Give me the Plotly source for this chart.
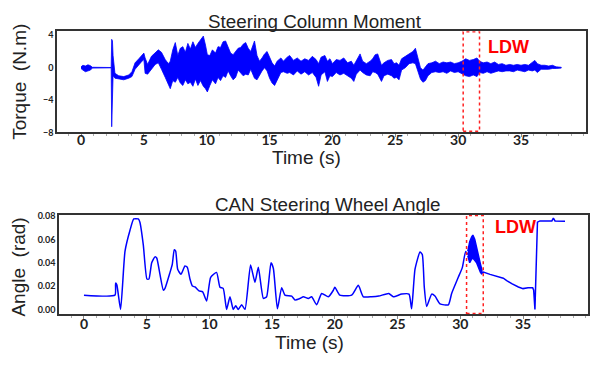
import plotly.graph_objects as go

# ---------------- Data: Steering column moment (envelope of noisy torque) ----------------
torque_t = [0.0, 0.15, 0.35, 0.55, 0.75, 0.9, 2.40, 2.44, 2.50, 2.55, 2.7, 3.0, 3.4, 3.8, 4.05, 4.3, 4.6,
            4.85, 5.0, 5.1, 5.3, 5.6, 5.9, 6.15, 6.4, 6.7, 6.95, 7.1, 7.3, 7.5, 7.7, 7.9, 8.1, 8.3, 8.5,
            8.7, 8.9, 9.1, 9.3, 9.5, 9.73, 9.9, 10.05, 10.25, 10.45, 10.7, 10.9, 11.1, 11.3, 11.5, 11.7,
            11.9, 12.1, 12.3, 12.5, 12.7, 12.9, 13.1, 13.3, 13.5, 13.8, 14.0, 14.2, 14.4, 14.6, 14.8,
            15.0, 15.2, 15.4, 15.6, 15.9, 16.1, 16.4, 16.6, 16.9, 17.2, 17.5, 17.8, 18.1, 18.4, 18.7,
            18.9, 19.1, 19.4, 19.6, 19.8, 20.0, 20.3, 20.6, 20.9, 21.2, 21.5, 21.7, 21.9, 22.2, 22.4,
            22.7, 23.0, 23.2, 23.4, 23.6, 23.9, 24.1, 24.4, 24.7, 24.9, 25.1, 25.3, 25.5, 25.8, 26.1,
            26.4, 26.6, 26.8, 27.0, 27.2, 27.4, 27.6, 27.9, 28.2, 28.5, 28.8, 29.1, 29.4, 29.7, 30.0,
            30.3, 30.6, 30.9, 31.2, 31.5, 31.7, 32.0, 32.3, 32.6, 32.9, 33.2, 33.5, 33.8, 34.1, 34.4,
            34.7, 35.0, 35.3, 35.6, 35.9, 36.1, 36.3, 36.6, 36.9, 37.2, 37.5, 37.8, 38.2]
torque_hi = [0.1, 0.3, 0.2, 0.35, 0.25, 0.05, 0.02, 3.5, 3.3, 1.5, -0.7, -1.0, -1.1, -0.9, -0.5, 0.6, 1.1,
             1.5, 1.8, 1.2, 0.4, 1.4, 1.8, 2.2, 1.9, 1.0, 0.5, 0.8, 2.2, 3.1, 1.5, 2.4, 2.6, 1.9, 3.0,
             2.3, 3.2, 2.5, 3.0, 3.4, 3.9, 2.8, 1.6, 1.5, 2.2, 1.8, 2.6, 2.5, 3.2, 3.3, 2.6,
             1.8, 1.6, 2.0, 2.4, 2.5, 2.9, 3.1, 2.4, 2.0, 3.3, 1.5, 0.8, 1.2, 1.7, 2.0,
             1.2, 0.6, 0.2, 0.8, 1.2, 0.8, 1.3, 1.5, 0.9, 1.2, 0.8, 1.1, 0.9, 1.4, 1.0,
             0.5, 1.3, 1.5, 0.8, 1.1, 0.5, 1.0, 0.9, 1.2, 0.6, 0.8, 0.3, 0.9, 1.7, 0.8,
             0.5, 0.8, 1.1, 1.6, 1.7, 0.3, 0.6, 0.9, 1.0, 0.5, 0.6, 0.3, 1.1, 1.4, 1.7,
             2.0, 2.4, 1.3, 0.0, -0.3, 0.1, 0.5, 0.6, 0.8, 0.5, 0.7, 0.6, 0.7, 0.5, 0.6,
             0.8, 1.1, 0.9, 1.0, 1.2, 0.8, 0.6, 0.7, 0.5, 0.7, 0.4, 0.5, 0.3, 0.4, 0.3,
             0.4, 0.3, 0.4, 0.3, 0.6, 0.9, 0.5, 0.3, 0.3, 0.2, 0.3, 0.1, 0.05]
torque_lo = [-0.1, -0.3, -0.5, -0.4, -0.3, -0.05, -0.02, -7.3, -7.2, -1.0, -1.3, -1.4, -1.5, -1.3, -1.1, -0.2, 0.4,
             0.8, 1.0, -0.7, -0.8, -0.2, 0.4, 0.6, -0.2, -1.2, -2.0, -2.6, -1.6, -1.8, -1.2, -1.9, -2.2, -1.5, -2.0,
             -1.8, -2.3, -1.4, -2.2, -1.6, -2.3, -2.6, -3.0, -2.2, -1.5, -2.0, -1.2, -1.6, -1.0, -1.2, -0.4,
             -1.0, -1.5, -1.2, -0.3, -0.6, -1.0, -0.8, -0.9, -0.2, -1.3, -1.5, -1.0, -0.4, 0.0, -0.4,
             -1.3, -1.9, -2.2, -1.6, -0.6, -0.5, -0.7, -0.6, -0.9, -0.4, -0.8, -0.5, -0.9, -0.6, -1.2,
             -2.3, -0.9, -0.5, -1.7, -1.0, -1.1, -0.6, -0.9, -0.7, -1.0, -1.3, -1.7, -0.8, -0.3, -0.6,
             -0.9, -1.0, -0.5, -0.6, -0.8, -1.7, -1.0, -0.8, -1.0, -1.3, -1.2, -1.5, -0.3, 0.0, 0.5,
             0.6, 0.5, -0.4, -1.4, -1.8, -1.6, -1.0, -0.6, -0.5, -0.6, -0.5, -0.7, -0.4, -0.6, -0.5,
             -0.7, -1.0, -1.1, -0.9, -1.1, -0.6, -0.7, -0.5, -0.7, -0.6, -0.4, -0.5, -0.4, -0.4, -0.5,
             -0.3, -0.4, -0.5, -0.3, -0.4, -0.3, -0.6, -0.2, -0.2, -0.2, -0.1, -0.1, -0.05]

# ---------------- Data: CAN steering wheel angle ----------------
angle_t = [0.0, 2.47, 2.52, 2.62, 2.92, 3.27, 3.67, 3.97, 4.33, 4.46, 4.73, 5.02, 5.18, 5.4, 5.66, 5.8,
           6.06, 6.33, 6.46, 6.86, 7.04, 7.2, 7.31, 7.47, 7.73, 8.05, 8.24, 8.45, 8.64, 8.85, 9.17, 9.46,
           9.78, 10.1, 10.57, 10.84, 11.1, 11.37, 11.64, 11.9, 12.1, 12.3, 12.57, 12.84, 13.28, 13.63,
           13.9, 14.3, 14.56, 14.91, 15.1, 15.42, 15.76, 16.02, 16.56, 16.82, 17.22, 17.49, 17.89,
           18.15, 18.55, 18.95, 19.48, 19.88, 20.0, 20.4, 21.34, 21.87, 22.27, 22.93, 23.5, 24.3,
           24.66, 25.33, 25.91, 26.12, 26.39, 26.79, 26.97, 27.13, 27.32, 27.72, 27.98, 28.38, 29.05,
           29.31, 29.84, 30.16, 30.43, 30.6]
angle_v = [0.0122, 0.0122, 0.0225, 0.021, 0.0, 0.0497, 0.0678, 0.0775, 0.0775, 0.0747, 0.0553, 0.026,
           0.026, 0.040, 0.045, 0.044, 0.030, 0.0164, 0.018, 0.0317, 0.0386, 0.0511, 0.050, 0.0344,
           0.030, 0.0372, 0.036, 0.026, 0.020, 0.0192, 0.0158, 0.015, 0.0072, 0.0275, 0.0317, 0.019,
           0.018, 0.0, 0.0108, 0.0, 0.0031, 0.0, 0.0039, 0.0, 0.0381, 0.0233, 0.036, 0.0094, 0.0108,
           0.0400, 0.035, 0.0005, 0.0186, 0.0122, 0.0114, 0.0081, 0.0094, 0.0108, 0.0094, 0.0108,
           0.0039, 0.0136, 0.0108, 0.0164, 0.019, 0.0122, 0.0122, 0.0206, 0.0108, 0.0108, 0.0114,
           0.0136, 0.0108, 0.0131, 0.0131, 0.0005, 0.0344, 0.0492, 0.047, 0.019, 0.0025, 0.0131,
           0.0114, 0.0047, 0.0039, 0.0136, 0.0275, 0.0358, 0.0497, 0.047]
# oscillating portion during LDW (envelope)
band_t = [30.6, 30.75, 30.9, 31.0, 31.15, 31.3, 31.45, 31.6, 31.72]
band_hi = [0.050, 0.058, 0.062, 0.0636, 0.060, 0.052, 0.045, 0.039, 0.034]
band_lo = [0.046, 0.040, 0.043, 0.044, 0.042, 0.040, 0.036, 0.032, 0.030]
angle2_t = [31.72, 31.84, 32.37, 33.43, 33.7, 34.1, 34.63, 35.0, 35.4, 35.77, 35.85, 35.95, 36.15, 36.35,
            37.3, 37.42, 37.55, 38.35]
angle2_v = [0.031, 0.032, 0.030, 0.0267, 0.0247, 0.022, 0.0192, 0.0178, 0.0186, 0.0186, 0.0165, 0.0,
            0.0747, 0.0758, 0.0758, 0.0782, 0.0758, 0.0756]

# LDW windows (s)
ldw_top = [30.4, 31.7]
ldw_bot = [30.5, 31.83]

torque_ticks = [-8, -4, 0, 4]
angle_ticks = [0.0, 0.02, 0.04, 0.06, 0.08]
time_ticks = [0, 5, 10, 15, 20, 25, 30, 35]

BLUE = "#0000FF"
fig = go.Figure()

fig.add_trace(go.Scatter(
    x=torque_t + torque_t[::-1], y=torque_hi + torque_lo[::-1],
    fill="toself", fillcolor=BLUE, mode="lines", line=dict(color=BLUE, width=0.8),
    xaxis="x", yaxis="y", showlegend=False, hoverinfo="skip"))

fig.add_trace(go.Scatter(x=angle_t, y=angle_v, mode="lines",
                         line=dict(color=BLUE, width=1.5, shape="spline", smoothing=0.5),
                         xaxis="x2", yaxis="y2", showlegend=False))
fig.add_trace(go.Scatter(
    x=band_t + band_t[::-1], y=band_hi + band_lo[::-1],
    fill="toself", fillcolor=BLUE, mode="lines", line=dict(color=BLUE, width=1.5),
    xaxis="x2", yaxis="y2", showlegend=False))
fig.add_trace(go.Scatter(x=angle2_t, y=angle2_v, mode="lines", line=dict(color=BLUE, width=1.5),
                         xaxis="x2", yaxis="y2", showlegend=False))

tickfont_x = dict(family="Lato", size=14, weight="bold", color="#222")
tickfont_y = dict(family="Lato", size=9, weight="bold", color="#222")
axline = dict(showline=True, linecolor="#333", linewidth=1.5, mirror=True, showgrid=False, zeroline=False)

fig.update_layout(
    width=591, height=365, margin=dict(l=0, r=0, t=0, b=0),
    paper_bgcolor="white", plot_bgcolor="white",
    xaxis=dict(domain=[57/591, 586/591], range=[-1.91, 40.17], anchor="y", tickvals=time_ticks,
               ticks="outside", ticklen=3, tickcolor="#888", tickfont=tickfont_x, ticklabelstandoff=-9,
               minor=dict(dtick=1, ticks="outside", ticklen=2, tickcolor="#aaa"), **axline),
    yaxis=dict(domain=[1-131/365, 1-27/365], range=[-8, 4.5], anchor="x", tickvals=torque_ticks,
               ticks="", tickfont=tickfont_y, **axline),
    xaxis2=dict(domain=[59/591, 588/591], range=[-1.99, 40.18], anchor="y2", tickvals=time_ticks,
                ticks="outside", ticklen=3, tickcolor="#888", tickfont=tickfont_x, ticklabelstandoff=-7,
                minor=dict(dtick=1, ticks="outside", ticklen=2, tickcolor="#aaa"), **axline),
    yaxis2=dict(domain=[1-318/365, 1-216/365], range=[-0.0042, 0.0808], anchor="x2",
                tickvals=angle_ticks, tickformat=".2f", ticks="", tickfont=tickfont_y, **axline),
)

# LDW dotted boxes
fig.add_shape(type="rect", xref="x", yref="y", x0=ldw_top[0], x1=ldw_top[1], y0=-7.85, y1=4.45,
              line=dict(color="#FF2020", width=1.5, dash="dot"))
fig.add_shape(type="rect", xref="x2", yref="y2", x0=ldw_bot[0], x1=ldw_bot[1], y0=-0.0035, y1=0.0805,
              line=dict(color="#FF2020", width=1.5, dash="dot"))

title_font = dict(family="Liberation Sans", size=18.8, color="#222")
axis_font = dict(family="Liberation Sans", size=19, color="#222")
ldw_font = dict(family="Liberation Sans", size=18, color="#FF0000", weight="bold")

def ann(text, x, y, font, angle=0):
    fig.add_annotation(text=text, x=x/591, y=1-y/365, xref="paper", yref="paper",
                       showarrow=False, font=font, textangle=angle, xanchor="center", yanchor="middle")

ann("Steering Column Moment", 315, 17, title_font)
ann("CAN Steering Wheel Angle", 328, 205, title_font)
ann("Time (s)", 306, 157, axis_font)
ann("Time (s)", 309, 347, axis_font)
ann("Torque  (N.m)", 20, 79, axis_font, -90)
ann("Angle  (rad)", 19, 270, axis_font, -90)
ann("LDW", 508, 43, ldw_font)
ann("LDW", 515, 228, ldw_font)

fig.write_html("out.html")
